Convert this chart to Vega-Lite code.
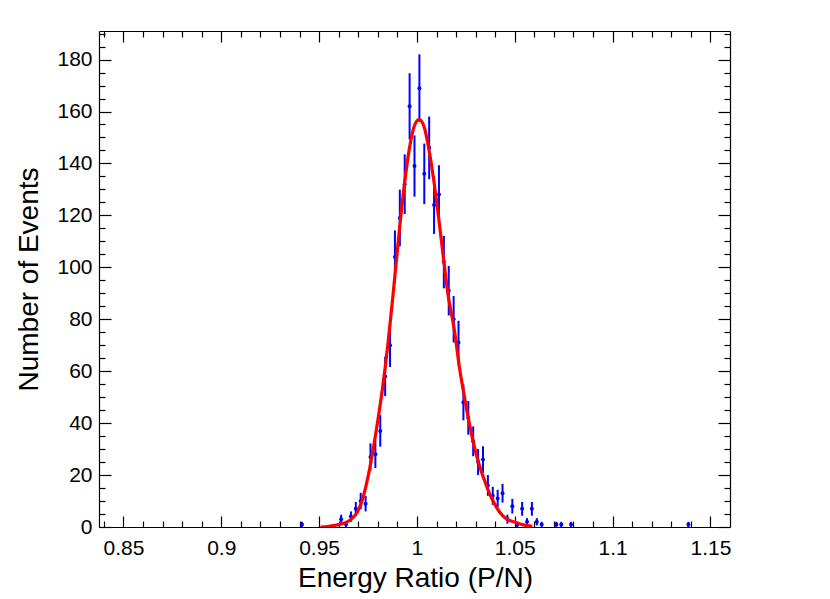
{
  "$schema": "https://vega.github.io/schema/vega-lite/v6.json",
  "autosize": "none",
  "width": 631,
  "height": 496,
  "padding": {"left": 99, "top": 31, "right": 100, "bottom": 72},
  "background": "white",
  "config": {
    "view": {"stroke": null},
    "font": "Liberation Sans",
    "axis": {
      "labelFont": "Liberation Sans",
      "titleFont": "Liberation Sans",
      "labelColor": "black",
      "titleColor": "black",
      "domainColor": "black",
      "domainWidth": 1.2,
      "tickColor": "black",
      "tickWidth": 1.2,
      "grid": false,
      "labelFontSize": 21,
      "titleFontSize": 28,
      "titleFontWeight": "normal"
    }
  },
  "datasets": {
    "hist": [
      {"x": 0.94125, "y": 1, "lo": 0, "hi": 2},
      {"x": 0.96125, "y": 3, "lo": 1.27, "hi": 4.73},
      {"x": 0.96375, "y": 1, "lo": 0, "hi": 2},
      {"x": 0.96625, "y": 4, "lo": 2, "hi": 6},
      {"x": 0.96875, "y": 7, "lo": 4.35, "hi": 9.65},
      {"x": 0.97125, "y": 10, "lo": 6.84, "hi": 13.16},
      {"x": 0.97375, "y": 9, "lo": 6, "hi": 12},
      {"x": 0.97625, "y": 27, "lo": 21.8, "hi": 32.2},
      {"x": 0.97875, "y": 28, "lo": 22.71, "hi": 33.29},
      {"x": 0.98125, "y": 37, "lo": 30.92, "hi": 43.08},
      {"x": 0.98375, "y": 58, "lo": 50.38, "hi": 65.62},
      {"x": 0.98625, "y": 70, "lo": 61.63, "hi": 78.37},
      {"x": 0.98875, "y": 104, "lo": 93.8, "hi": 114.2},
      {"x": 0.99125, "y": 119, "lo": 108.09, "hi": 129.91},
      {"x": 0.99375, "y": 132, "lo": 120.51, "hi": 143.49},
      {"x": 0.99625, "y": 162, "lo": 149.27, "hi": 174.73},
      {"x": 0.99875, "y": 139, "lo": 127.21, "hi": 150.79},
      {"x": 1.00125, "y": 169, "lo": 156, "hi": 182},
      {"x": 1.00375, "y": 136, "lo": 124.34, "hi": 147.66},
      {"x": 1.00625, "y": 146, "lo": 133.92, "hi": 158.08},
      {"x": 1.00875, "y": 124, "lo": 112.86, "hi": 135.14},
      {"x": 1.01125, "y": 128, "lo": 116.69, "hi": 139.31},
      {"x": 1.01375, "y": 102, "lo": 91.9, "hi": 112.1},
      {"x": 1.01625, "y": 91, "lo": 81.46, "hi": 100.54},
      {"x": 1.01875, "y": 80, "lo": 71.06, "hi": 88.94},
      {"x": 1.02125, "y": 71, "lo": 62.57, "hi": 79.43},
      {"x": 1.02375, "y": 48, "lo": 41.07, "hi": 54.93},
      {"x": 1.02625, "y": 42, "lo": 35.52, "hi": 48.48},
      {"x": 1.02875, "y": 33, "lo": 27.26, "hi": 38.74},
      {"x": 1.03125, "y": 25, "lo": 20, "hi": 30},
      {"x": 1.03375, "y": 26, "lo": 20.9, "hi": 31.1},
      {"x": 1.03625, "y": 16, "lo": 12, "hi": 20},
      {"x": 1.03875, "y": 12, "lo": 8.54, "hi": 15.46},
      {"x": 1.04125, "y": 11, "lo": 7.68, "hi": 14.32},
      {"x": 1.04375, "y": 13, "lo": 9.39, "hi": 16.61},
      {"x": 1.04625, "y": 3, "lo": 1.27, "hi": 4.73},
      {"x": 1.04875, "y": 8, "lo": 5.17, "hi": 10.83},
      {"x": 1.05125, "y": 1, "lo": 0, "hi": 2},
      {"x": 1.05375, "y": 7, "lo": 4.35, "hi": 9.65},
      {"x": 1.05625, "y": 2, "lo": 0.59, "hi": 3.41},
      {"x": 1.05875, "y": 7, "lo": 4.35, "hi": 9.65},
      {"x": 1.06125, "y": 2, "lo": 0.59, "hi": 3.41},
      {"x": 1.06375, "y": 1, "lo": 0, "hi": 2},
      {"x": 1.07125, "y": 1, "lo": 0, "hi": 2},
      {"x": 1.07375, "y": 1, "lo": 0, "hi": 2},
      {"x": 1.07875, "y": 1, "lo": 0, "hi": 2},
      {"x": 1.13875, "y": 1, "lo": 0, "hi": 2}
    ],
    "fit": [
      {"x": 0.9507, "y": 0},
      {"x": 0.9553, "y": 0.3},
      {"x": 0.9604, "y": 1},
      {"x": 0.9655, "y": 2.5},
      {"x": 0.9689, "y": 5},
      {"x": 0.9723, "y": 11},
      {"x": 0.9749, "y": 19},
      {"x": 0.9774, "y": 29},
      {"x": 0.98, "y": 41},
      {"x": 0.9825, "y": 54},
      {"x": 0.9851, "y": 70},
      {"x": 0.9876, "y": 88},
      {"x": 0.9911, "y": 115},
      {"x": 0.9936, "y": 132},
      {"x": 0.9962, "y": 146},
      {"x": 0.9987, "y": 154.5},
      {"x": 1.0011, "y": 157},
      {"x": 1.0037, "y": 154},
      {"x": 1.0062, "y": 145},
      {"x": 1.0086, "y": 133.5},
      {"x": 1.0111, "y": 119},
      {"x": 1.0138, "y": 102},
      {"x": 1.0158, "y": 90},
      {"x": 1.0192, "y": 75.5},
      {"x": 1.0217, "y": 61.5},
      {"x": 1.0243, "y": 50},
      {"x": 1.0268, "y": 39.8},
      {"x": 1.0294, "y": 30.8},
      {"x": 1.0319, "y": 23.8},
      {"x": 1.0345, "y": 18},
      {"x": 1.0371, "y": 12.9},
      {"x": 1.0396, "y": 9},
      {"x": 1.0422, "y": 5.8},
      {"x": 1.0456, "y": 3.2},
      {"x": 1.0498, "y": 1.9},
      {"x": 1.0549, "y": 0.7},
      {"x": 1.059, "y": 0.3}
    ]
  },
  "resolve": {"axis": {"x": "independent", "y": "independent"}},
  "layer": [
    {
      "data": {"name": "hist"},
      "mark": {"type": "rule", "color": "#0000ff", "strokeWidth": 2},
      "encoding": {
        "x": {
          "field": "x", "type": "quantitative",
          "scale": {"domain": [0.8375, 1.16], "nice": false, "zero": false},
          "axis": {
            "orient": "bottom",
            "title": "Energy Ratio (P/N)",
            "titleX": 316, "titleY": 59, "titleBaseline": "alphabetic", "titleAnchor": "middle", "titleAlign": "center",
            "values": [0.84, 0.85, 0.86, 0.87, 0.88, 0.89, 0.9, 0.91, 0.92, 0.93, 0.94, 0.95, 0.96, 0.97, 0.98, 0.99, 1, 1.01, 1.02, 1.03, 1.04, 1.05, 1.06, 1.07, 1.08, 1.09, 1.1, 1.11, 1.12, 1.13, 1.14, 1.15],
            "labelExpr": "indexof([0.85, 0.9, 0.95, 1, 1.05, 1.1, 1.15], datum.value) >= 0 ? toString(datum.value) : ''",
            "tickSize": {"condition": {"test": "indexof([0.85, 0.9, 0.95, 1, 1.05, 1.1, 1.15], datum.value) >= 0", "value": -11}, "value": -6},
            "labelPadding": 21,
            "labelOverlap": false,
            "labelFlush": false
          }
        },
        "y": {
          "field": "lo", "type": "quantitative",
          "scale": {"domain": [0, 191], "nice": false, "zero": false},
          "axis": {
            "orient": "left",
            "title": "Number of Events",
            "titleX": -62, "titleY": 248, "titleBaseline": "alphabetic", "titleAnchor": "middle", "titleAlign": "center", "titleAngle": -90,
            "values": [0, 5, 10, 15, 20, 25, 30, 35, 40, 45, 50, 55, 60, 65, 70, 75, 80, 85, 90, 95, 100, 105, 110, 115, 120, 125, 130, 135, 140, 145, 150, 155, 160, 165, 170, 175, 180, 185, 190],
            "labelExpr": "datum.value % 20 == 0 ? toString(datum.value) : ''",
            "tickSize": {"condition": {"test": "datum.value % 20 == 0", "value": -12}, "value": -6},
            "labelPadding": 19,
            "labelOverlap": false,
            "labelFlush": false
          }
        },
        "y2": {"field": "hi"}
      }
    },
    {
      "data": {"name": "hist"},
      "mark": {"type": "point", "shape": "circle", "filled": true, "color": "#0000ff", "size": 16, "opacity": 1},
      "encoding": {
        "x": {
          "field": "x", "type": "quantitative",
          "axis": {
            "orient": "top", "title": null, "labels": false,
            "values": [0.84, 0.85, 0.86, 0.87, 0.88, 0.89, 0.9, 0.91, 0.92, 0.93, 0.94, 0.95, 0.96, 0.97, 0.98, 0.99, 1, 1.01, 1.02, 1.03, 1.04, 1.05, 1.06, 1.07, 1.08, 1.09, 1.1, 1.11, 1.12, 1.13, 1.14, 1.15],
            "tickSize": {"condition": {"test": "indexof([0.85, 0.9, 0.95, 1, 1.05, 1.1, 1.15], datum.value) >= 0", "value": -11}, "value": -6}
          }
        },
        "y": {
          "field": "y", "type": "quantitative",
          "axis": {
            "orient": "right", "title": null, "labels": false,
            "values": [0, 5, 10, 15, 20, 25, 30, 35, 40, 45, 50, 55, 60, 65, 70, 75, 80, 85, 90, 95, 100, 105, 110, 115, 120, 125, 130, 135, 140, 145, 150, 155, 160, 165, 170, 175, 180, 185, 190],
            "tickSize": {"condition": {"test": "datum.value % 20 == 0", "value": -12}, "value": -6}
          }
        }
      }
    },
    {
      "data": {"name": "fit"},
      "mark": {"type": "line", "color": "#ff0000", "strokeWidth": 3.2, "interpolate": "monotone", "clip": true},
      "encoding": {
        "x": {"field": "x", "type": "quantitative", "axis": null},
        "y": {"field": "y", "type": "quantitative", "axis": null}
      }
    }
  ]
}
